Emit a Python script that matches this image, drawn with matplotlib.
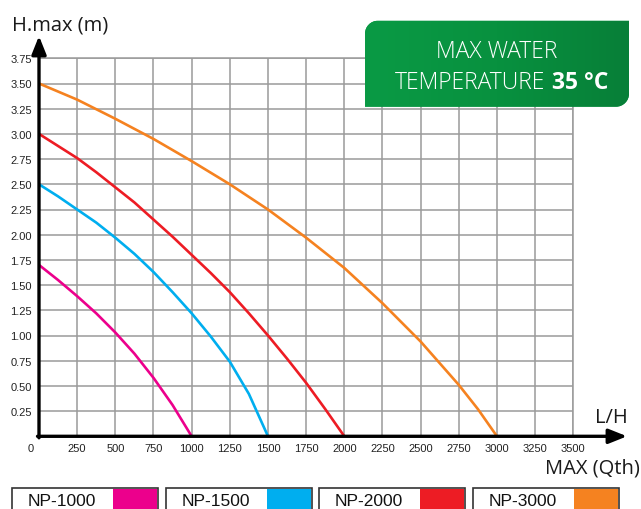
import matplotlib
matplotlib.use("Agg")
import matplotlib.pyplot as plt
import numpy as np
from matplotlib.patches import PathPatch, Rectangle
from matplotlib.path import Path
from matplotlib.transforms import ScaledTranslation
from matplotlib.colors import LinearSegmentedColormap

# ---- data ----
flow_1000 = [0, 125, 250, 375, 500, 625, 750, 875, 1000]
head_1000 = [1.70, 1.55, 1.39, 1.22, 1.03, 0.82, 0.58, 0.31, 0.0]
flow_1500 = [0, 125, 250, 375, 500, 625, 750, 875, 1000, 1125, 1250, 1375, 1500]
head_1500 = [2.50, 2.38, 2.25, 2.12, 1.97, 1.81, 1.63, 1.43, 1.22, 0.99, 0.74, 0.42, 0.0]
flow_2000 = [0, 125, 250, 375, 500, 625, 750, 875, 1000, 1125, 1250, 1375, 1500,
             1625, 1750, 1875, 2000]
head_2000 = [3.00, 2.88, 2.76, 2.62, 2.47, 2.32, 2.15, 1.98, 1.80, 1.62, 1.43, 1.22, 1.00,
             0.77, 0.53, 0.27, 0.0]
flow_3000 = [0, 250, 500, 750, 1000, 1250, 1500, 1750, 2000, 2250, 2500, 2750, 2875, 3000]
head_3000 = [3.50, 3.34, 3.15, 2.95, 2.73, 2.50, 2.25, 1.97, 1.67, 1.32, 0.94, 0.51, 0.27, 0.0]

series_names = ["NP-1000", "NP-1500", "NP-2000", "NP-3000"]
series_colors = ["#ec008c", "#00aeef", "#ed1c24", "#f58220"]

x_ticks = [0, 250, 500, 750, 1000, 1250, 1500, 1750, 2000, 2250, 2500, 2750, 3000, 3250, 3500]
y_ticks = [0.25, 0.50, 0.75, 1.00, 1.25, 1.50, 1.75, 2.00, 2.25, 2.50, 2.75, 3.00, 3.25, 3.50, 3.75]

W, H = 641, 510
fig = plt.figure(figsize=(W / 100, H / 100), dpi=100)
fig.patch.set_facecolor("white")

tick_font = ["Liberation Sans Narrow", "Liberation Sans", "DejaVu Sans"]

# main axes (pixel placement)
x0, x1 = 39, 573.3
y0, y1 = 437.3, 59.3
ax = fig.add_axes([x0 / W, 1 - y0 / H, (x1 - x0) / W, (y0 - y1) / H])
ax.set_xlim(0, 3500)
ax.set_ylim(0, 3.75)
ax.set_xticks(x_ticks)
ax.set_xticklabels([str(v) for v in x_ticks])
ax.set_yticks(y_ticks)
ax.set_yticklabels([f"{v:.2f}" for v in y_ticks])
ax.tick_params(length=0, labelsize=8, colors="#222222")
ax.tick_params(axis="y", pad=5)
ax.tick_params(axis="x", pad=5)
for lab in ax.get_xticklabels() + ax.get_yticklabels():
    lab.set_family(tick_font)
first = ax.get_xticklabels()[0]
first.set_transform(first.get_transform() + ScaledTranslation(-8 / 100, 0, fig.dpi_scale_trans))

ax.grid(True, color="#9a9a9a", lw=1.1)
ax.set_axisbelow(True)
for s in ["top", "right"]:
    ax.spines[s].set_color("#9a9a9a")
    ax.spines[s].set_linewidth(1.1)
for s in ["left", "bottom"]:
    ax.spines[s].set_visible(False)

flows = [flow_1000, flow_1500, flow_2000, flow_3000]
heads = [head_1000, head_1500, head_2000, head_3000]
for fl, hd, c in zip(flows, heads, series_colors):
    ax.plot(fl, hd, color=c, lw=1.9, solid_capstyle="butt",
            solid_joinstyle="round", zorder=3)

# overlay axes in pixel coordinates
ov = fig.add_axes([0, 0, 1, 1], facecolor="none")
ov.set_xlim(0, W)
ov.set_ylim(H, 0)
ov.axis("off")

arrow_style = "-|>,head_length=0.55,head_width=0.22"
ov.annotate("", xy=(x0, 37), xytext=(x0, y0 + 1.5),
            arrowprops=dict(arrowstyle=arrow_style, lw=2.4, color="black",
                            mutation_scale=20, shrinkA=0, shrinkB=0))
ov.annotate("", xy=(627, y0), xytext=(x0 - 1.5, y0),
            arrowprops=dict(arrowstyle=arrow_style, lw=2.4, color="black",
                            mutation_scale=20, shrinkA=0, shrinkB=0))

label_font = ["Open Sans", "DejaVu Sans"]
ov.text(12, 31, "H.max (m)", fontsize=14.5, family=label_font, color="#1a1a1a",
        ha="left", va="baseline")
ov.text(628, 423, "L/H", fontsize=14.5, family=label_font, color="#1a1a1a",
        ha="right", va="baseline")
ov.text(640, 474, "MAX (Qth)", fontsize=14.5, family=label_font, color="#1a1a1a",
        ha="right", va="baseline")

# green badge with two rounded corners (top-left, bottom-right)
bx0, bx1, by0, by1, r = 365, 629, 21.7, 107.7, 13
k = 0.5523 * r
verts = [
    (bx0 + r, by0),
    (bx1, by0),
    (bx1, by1 - r),
    (bx1, by1 - r + k), (bx1 - r + k, by1), (bx1 - r, by1),
    (bx0, by1),
    (bx0, by0 + r),
    (bx0, by0 + r - k), (bx0 + r - k, by0), (bx0 + r, by0),
    (bx0 + r, by0),
]
codes = [Path.MOVETO, Path.LINETO, Path.LINETO,
         Path.CURVE4, Path.CURVE4, Path.CURVE4,
         Path.LINETO, Path.LINETO,
         Path.CURVE4, Path.CURVE4, Path.CURVE4,
         Path.CLOSEPOLY]
badge = PathPatch(Path(verts, codes), facecolor="#089440", edgecolor="none", zorder=5)
ov.add_patch(badge)
grad = np.linspace(0, 1, 256).reshape(1, -1)
cmap = LinearSegmentedColormap.from_list("g", ["#0a9a45", "#08913f", "#077f38"])
im = ov.imshow(grad, extent=[bx0, bx1, by1, by0], cmap=cmap, aspect="auto", zorder=6)
im.set_clip_path(badge)
ov.set_xlim(0, W)
ov.set_ylim(H, 0)

badge_font = ["Open Sans", "DejaVu Sans"]
ov.text(497, 58.3, "MAX WATER", fontsize=16.5, family=badge_font, fontweight="light",
        color="white", ha="center", va="baseline", zorder=7)
ov.text(395, 89, "TEMPERATURE", fontsize=16.5, family=badge_font, fontweight="light",
        color="white", ha="left", va="baseline", zorder=7)
ov.text(552, 89, "35 °C", fontsize=16.5, family=badge_font, fontweight="bold",
        color="white", ha="left", va="baseline", zorder=7)

# legend boxes
box_lefts = [12, 165.7, 319, 472.7]
box_w = 146
for bl, name, c in zip(box_lefts, series_names, series_colors):
    ov.add_patch(Rectangle((bl, 489), box_w, 30, facecolor="white",
                           edgecolor="#333333", lw=1.2, zorder=4))
    ov.add_patch(Rectangle((bl + 101, 489.6), box_w - 101.6, 30, facecolor=c,
                           edgecolor="none", zorder=5))
    ov.text(bl + 16, 506.5, name, fontsize=12.5, family=["Liberation Sans", "DejaVu Sans"],
            color="#111111", ha="left", va="baseline", zorder=6)

fig.savefig("out.png", dpi=100)
